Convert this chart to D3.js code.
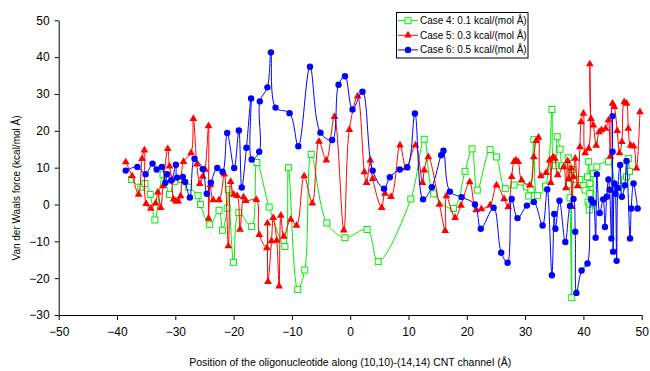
<!DOCTYPE html>
<html><head><meta charset="utf-8">
<script src="https://cdn.jsdelivr.net/npm/d3@7"></script>
<style>body{margin:0;background:#fff}svg{display:block;font-family:"Liberation Sans",Arial,sans-serif}</style>
</head><body><svg id="c" width="650" height="371"></svg>
<script>
const xTicks = [-50,-40,-30,-20,-10,0,10,20,30,40,50];
const yTicks = [-30,-20,-10,0,10,20,30,40,50];
const seriesNames = ["Case 4: 0.1 kcal/(mol Å)","Case 5: 0.3 kcal/(mol Å)","Case 6: 0.5 kcal/(mol Å)"];
const xTitle = "Position of the oligonucleotide along (10,10)-(14,14) CNT channel (Å)";
const yTitle = "Van der Waals force (kcal/mol Å)";

const case4 = [[-37.5,6.8],[-35.9,4.7],[-35.2,5.7],[-34.3,2.7],[-33.5,-4.2],[-32.1,8.1],[-31.0,2.7],[-30.1,6.3],[-29.0,6.8],[-27.7,4.7],[-26.1,2.4],[-25.7,0.0],[-24.1,-5.5],[-22.5,-1.6],[-21.9,-7.0],[-21.1,-1.0],[-20.9,4.0],[-20.0,-15.7],[-19.1,-2.2],[-16.9,-6.0],[-16.0,11.4],[-13.9,-0.7],[-11.2,-11.4],[-10.6,10.0],[-9.0,-23.1],[-7.8,-17.8],[-6.7,13.6],[-4.0,-5.0],[-0.9,-9.0],[2.9,-6.8],[4.8,-15.5],[10.4,1.5],[12.7,17.7],[14.3,2.9],[17.7,-1.1],[19.7,9.0],[20.9,15.1],[21.8,3.9],[24.0,14.9],[25.1,12.9],[26.6,4.3],[28.1,5.3],[30.2,4.8],[30.6,2.3],[31.0,4.1],[31.5,17.6],[32.1,2.4],[33.5,5.0],[34.6,25.8],[34.8,12.0],[35.2,10.5],[35.5,18.4],[36.0,15.0],[36.4,10.5],[37.4,12.7],[37.6,5.4],[37.7,1.8],[38.0,-25.3],[38.1,9.5],[38.4,6.8],[39.4,6.8],[40.0,5.2],[40.3,3.9],[40.7,7.5],[40.9,11.6],[41.1,5.7],[41.1,3.0],[40.8,0.7],[41.1,-0.2],[41.0,-1.5],[41.7,0.4],[41.7,8.4],[42.3,10.2],[44.3,11.6],[45.9,3.0],[46.5,5.0],[47.0,6.6],[47.4,7.5],[47.7,12.5],[47.9,9.0]];

const case5 = [[-38.5,11.5],[-37.4,7.7],[-36.3,2.7],[-35.7,12.4],[-35.3,14.7],[-35.0,0.2],[-34.2,-1.1],[-33.4,0.3],[-33.0,3.3],[-32.5,-0.9],[-32.1,5.0],[-31.3,15.1],[-31.0,10.4],[-30.6,6.8],[-30.3,1.4],[-29.9,0.9],[-29.5,0.9],[-29.1,2.3],[-28.6,11.6],[-27.3,14.0],[-26.9,23.3],[-26.3,10.9],[-25.8,5.6],[-25.3,7.6],[-24.9,9.5],[-24.3,21.3],[-24.3,-3.8],[-24.0,5.3],[-23.5,1.2],[-22.5,1.2],[-21.6,8.2],[-20.9,-11.3],[-20.5,6.2],[-20.0,2.7],[-19.4,2.4],[-18.9,-6.8],[-18.3,2.0],[-17.9,1.0],[-16.1,1.3],[-15.6,-8.2],[-14.3,-11.8],[-14.2,-5.1],[-14.1,-21.0],[-13.5,-9.9],[-13.2,-3.6],[-12.6,-9.8],[-12.2,-22.2],[-11.9,-3.0],[-11.4,-8.7],[-10.2,-4.1],[-9.2,-5.7],[-7.9,7.7],[-6.5,0.3],[-5.35,17.1],[-4.1,12.0],[-2.7,23.8],[-1.1,-7.0],[-0.15,20.3],[1.28,29.4],[2.42,8.8],[2.8,5.9],[3.45,12.0],[3.85,7.0],[5.4,-0.9],[5.97,3.0],[7.0,2.1],[8.54,16.1],[9.6,9.9],[11.2,16.1],[12.4,5.9],[12.7,9.3],[13.4,12.9],[15.3,0.0],[16.3,-7.1],[16.5,2.3],[18.0,-3.6],[19.0,-0.3],[20.5,6.1],[21.6,-1.5],[22.5,-1.2],[24.0,-0.2],[25.1,5.2],[26.4,1.5],[27.1,-0.7],[27.7,7.5],[28.1,11.6],[28.4,12.0],[28.8,11.6],[29.4,6.6],[30.8,5.2],[31.5,12.9],[31.9,17.3],[32.3,18.2],[32.7,7.7],[33.6,8.6],[34.2,12.0],[34.4,5.9],[34.8,12.9],[35.1,12.5],[35.6,8.0],[36.6,10.2],[37.0,4.5],[37.3,11.8],[37.5,7.0],[37.9,9.8],[38.0,-0.6],[38.3,7.5],[38.6,12.5],[39.0,5.0],[39.4,15.6],[39.6,22.4],[40.0,24.7],[40.3,14.0],[40.9,15.2],[41.1,38.1],[41.3,23.3],[41.7,21.5],[42.2,16.0],[42.7,19.7],[43.1,20.2],[43.8,20.6],[44.3,22.9],[44.6,13.0],[45.0,27.4],[45.3,26.5],[45.8,20.0],[46.2,14.0],[46.6,17.0],[47.0,27.8],[47.4,27.4],[47.7,20.6],[48.1,16.0],[48.6,15.8],[49.1,9.8],[49.7,25.1]];

const case6 = [[-38.5,9.2],[-36.5,10.2],[-35.1,8.2],[-33.9,11.1],[-33.2,9.5],[-32.3,10.2],[-31.7,5.9],[-31.4,8.2],[-30.7,6.5],[-29.9,10.8],[-29.7,7.3],[-28.7,7.5],[-28.3,6.1],[-27.5,1.9],[-26.7,12.4],[-25.3,9.6],[-24.6,2.9],[-23.9,5.9],[-22.8,9.9],[-21.9,8.9],[-21.1,19.4],[-19.9,9.9],[-19.1,20.1],[-18.6,4.6],[-17.8,15.4],[-17.0,28.8],[-16.9,12.2],[-15.6,14.3],[-15.5,28.0],[-14.2,31.8],[-13.6,41.3],[-12.8,26.3],[-10.4,24.8],[-8.9,15.8],[-6.9,37.4],[-5.1,19.5],[-3.1,17.5],[-2.0,32.5],[-0.9,34.8],[0.4,25.8],[2.1,30.6],[3.85,9.2],[5.8,4.3],[6.8,7.4],[8.5,9.5],[9.8,10.1],[11.1,24.7],[12.5,1.4],[14.0,4.7],[15.6,13.4],[16.0,14.6],[17.1,3.5],[19.1,2.0],[21.4,0.0],[22.4,-6.6],[24.6,-0.9],[25.9,-13.1],[27.0,-15.8],[27.7,1.5],[28.7,-3.7],[30.3,-0.3],[31.5,0.7],[33.0,-5.7],[33.8,4.1],[34.6,-19.2],[35.0,-2.6],[35.2,-6.6],[35.9,1.0],[36.9,-10.2],[37.7,-0.4],[38.3,1.5],[38.6,-7.4],[38.8,-24.0],[39.7,-17.9],[40.7,-16.0],[41.3,1.4],[41.7,0.5],[42.1,-9.0],[42.3,8.2],[42.8,-2.3],[43.4,1.4],[43.7,-6.1],[44.0,2.1],[44.3,6.8],[44.5,4.0],[44.8,-9.2],[45.0,24.0],[45.0,14.3],[45.1,-12.8],[45.3,5.7],[45.5,3.0],[45.7,-15.3],[45.9,4.5],[46.3,10.7],[46.6,2.1],[47.1,5.2],[47.4,11.8],[48.0,-9.2],[48.2,-1.1],[48.6,5.7],[49.3,-1.1]];

const svg = d3.select("#c");
const L = 58.7, R = 641.7, T = 20.3, B = 315;
const x = d3.scaleLinear().domain([-50,50]).range([L,R]);
const y = d3.scaleLinear().domain([-30,50]).range([B,T]);

const xAxis = svg.append("g").attr("transform",`translate(0,${B})`)
  .call(d3.axisBottom(x).tickValues(xTicks).tickSize(5).tickSizeOuter(0).tickPadding(7).tickFormat(d3.format("d")));
const yAxis = svg.append("g").attr("transform",`translate(${L},0)`)
  .call(d3.axisLeft(y).tickValues(yTicks).tickSize(4).tickSizeOuter(0).tickPadding(5).tickFormat(d3.format("d")));
[xAxis,yAxis].forEach(a=>{
  a.selectAll("text").attr("font-size",12).attr("fill","#000").style("font-family","'Liberation Sans',Arial,sans-serif");
  a.selectAll("path,line").attr("stroke","#000");
});

const series = [
  {data:case4,color:"#00ee00",sym:"square"},
  {data:case5,color:"#ff0000",sym:"triangle"},
  {data:case6,color:"#0000ff",sym:"circle"}
];
const line = d3.line().x(d=>x(d[0])).y(d=>y(d[1])).curve(d3.curveCatmullRom.alpha(0.5));

function drawMarker(g, cx, cy, s){
  if(s.sym==="square"){
    g.append("rect").attr("x",cx-3).attr("y",cy-3).attr("width",6).attr("height",6)
      .attr("fill","#fff").attr("stroke",s.color).attr("stroke-width",1);
  } else if(s.sym==="triangle"){
    g.append("path").attr("transform",`translate(${cx},${cy})`)
      .attr("d",d3.symbol(d3.symbolTriangle,26)()).attr("fill",s.color);
  } else {
    g.append("circle").attr("cx",cx).attr("cy",cy).attr("r",3.2).attr("fill",s.color);
  }
}

series.forEach(s=>{
  const g = svg.append("g");
  g.append("path").attr("d",line(s.data)).attr("fill","none").attr("stroke",s.color).attr("stroke-width",1);
  s.data.forEach(d=>drawMarker(g,x(d[0]),y(d[1]),s));
});

// legend
const lg = svg.append("g");
lg.append("rect").attr("x",396.5).attr("y",12.5).attr("width",131.5).attr("height",45.5)
  .attr("fill","#fff").attr("stroke","#000").attr("stroke-width",1);
series.forEach((s,i)=>{
  const ry = 20.7 + i*14.6;
  lg.append("line").attr("x1",398).attr("x2",418).attr("y1",ry).attr("y2",ry).attr("stroke",s.color).attr("stroke-width",1);
  drawMarker(lg,408,ry,s);
  lg.append("text").attr("x",420).attr("y",ry).attr("dy","0.35em").attr("font-size",10).text(seriesNames[i]);
});

svg.append("text").attr("x",(L+R)/2).attr("y",366).attr("text-anchor","middle").attr("font-size",10.5).text(xTitle);
svg.append("text").attr("transform","translate(16,188) rotate(-90)").attr("text-anchor","middle").attr("dy","0.35em").attr("font-size",10).text(yTitle);
</script></body></html>
